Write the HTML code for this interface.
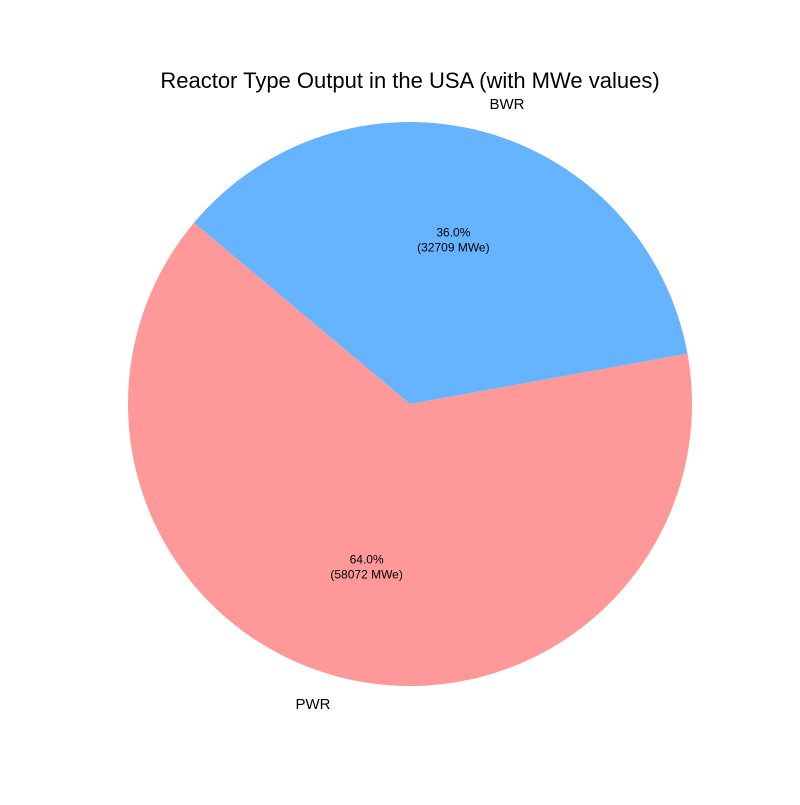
<!DOCTYPE html>
<html>
<head>
<meta charset="utf-8">
<style>
  html, body { margin: 0; padding: 0; background: #fff; }
  svg text { font-family: "Liberation Sans", "DejaVu Sans", sans-serif; }
</style>
</head>
<body>
<svg id="chart" width="800" height="800" viewBox="0 0 800 800" xmlns="http://www.w3.org/2000/svg">
  <rect width="800" height="800" fill="#ffffff"/>
  <text x="410" y="88" text-anchor="middle" font-size="22" fill="#000">Reactor Type Output in the USA (with MWe values)</text>
  <g id="slices"></g>
</svg>
<script>
const categories = ["PWR", "BWR"];
const values = [58072, 32709];
const colors = ["#ff9999", "#66b3ff"];

const cx = 410, cy = 404, r = 282, startAngle = 140;
const svg = document.getElementById('slices');
const NS = "http://www.w3.org/2000/svg";
const total = values.reduce((a, b) => a + b, 0);

function pt(angleDeg, rad) {
  const a = angleDeg * Math.PI / 180;
  return [cx + rad * Math.cos(a), cy - rad * Math.sin(a)];
}

let ang = startAngle;
values.forEach((v, i) => {
  const sweep = v / total * 360;
  const a0 = ang, a1 = ang + sweep;
  const [x0, y0] = pt(a0, r);
  const [x1, y1] = pt(a1, r);
  const large = sweep > 180 ? 1 : 0;
  const path = document.createElementNS(NS, 'path');
  path.setAttribute('d', `M${cx},${cy} L${x0},${y0} A${r},${r} 0 ${large} 0 ${x1},${y1} Z`);
  path.setAttribute('fill', colors[i]);
  
  
  svg.appendChild(path);

  const mid = (a0 + a1) / 2;
  const [lx, ly] = pt(mid, r * 1.1);
  const lab = document.createElementNS(NS, 'text');
  lab.setAttribute('x', lx);
  lab.setAttribute('y', ly + 5);
  lab.setAttribute('font-size', '15');
  lab.setAttribute('text-anchor', Math.cos(mid * Math.PI / 180) < 0 ? 'end' : 'start');
  lab.textContent = categories[i];
  
  
  svg.appendChild(lab);

  const [px, py] = pt(mid, r * 0.6);
  const pct = document.createElementNS(NS, 'text');
  pct.setAttribute('x', px);
  pct.setAttribute('y', py);
  pct.setAttribute('font-size', '12');
  pct.setAttribute('text-anchor', 'middle');
  
  
  const t1 = document.createElementNS(NS, 'tspan');
  t1.setAttribute('x', px);
  t1.setAttribute('dy', '-4');
  t1.textContent = (v / total * 100).toFixed(1) + '%';
  const t2 = document.createElementNS(NS, 'tspan');
  t2.setAttribute('x', px);
  t2.setAttribute('dy', '15');
  t2.textContent = '(' + v + ' MWe)';
  pct.appendChild(t1);
  pct.appendChild(t2);
  svg.appendChild(pct);

  ang = a1;
});
</script>
</body>
</html>
